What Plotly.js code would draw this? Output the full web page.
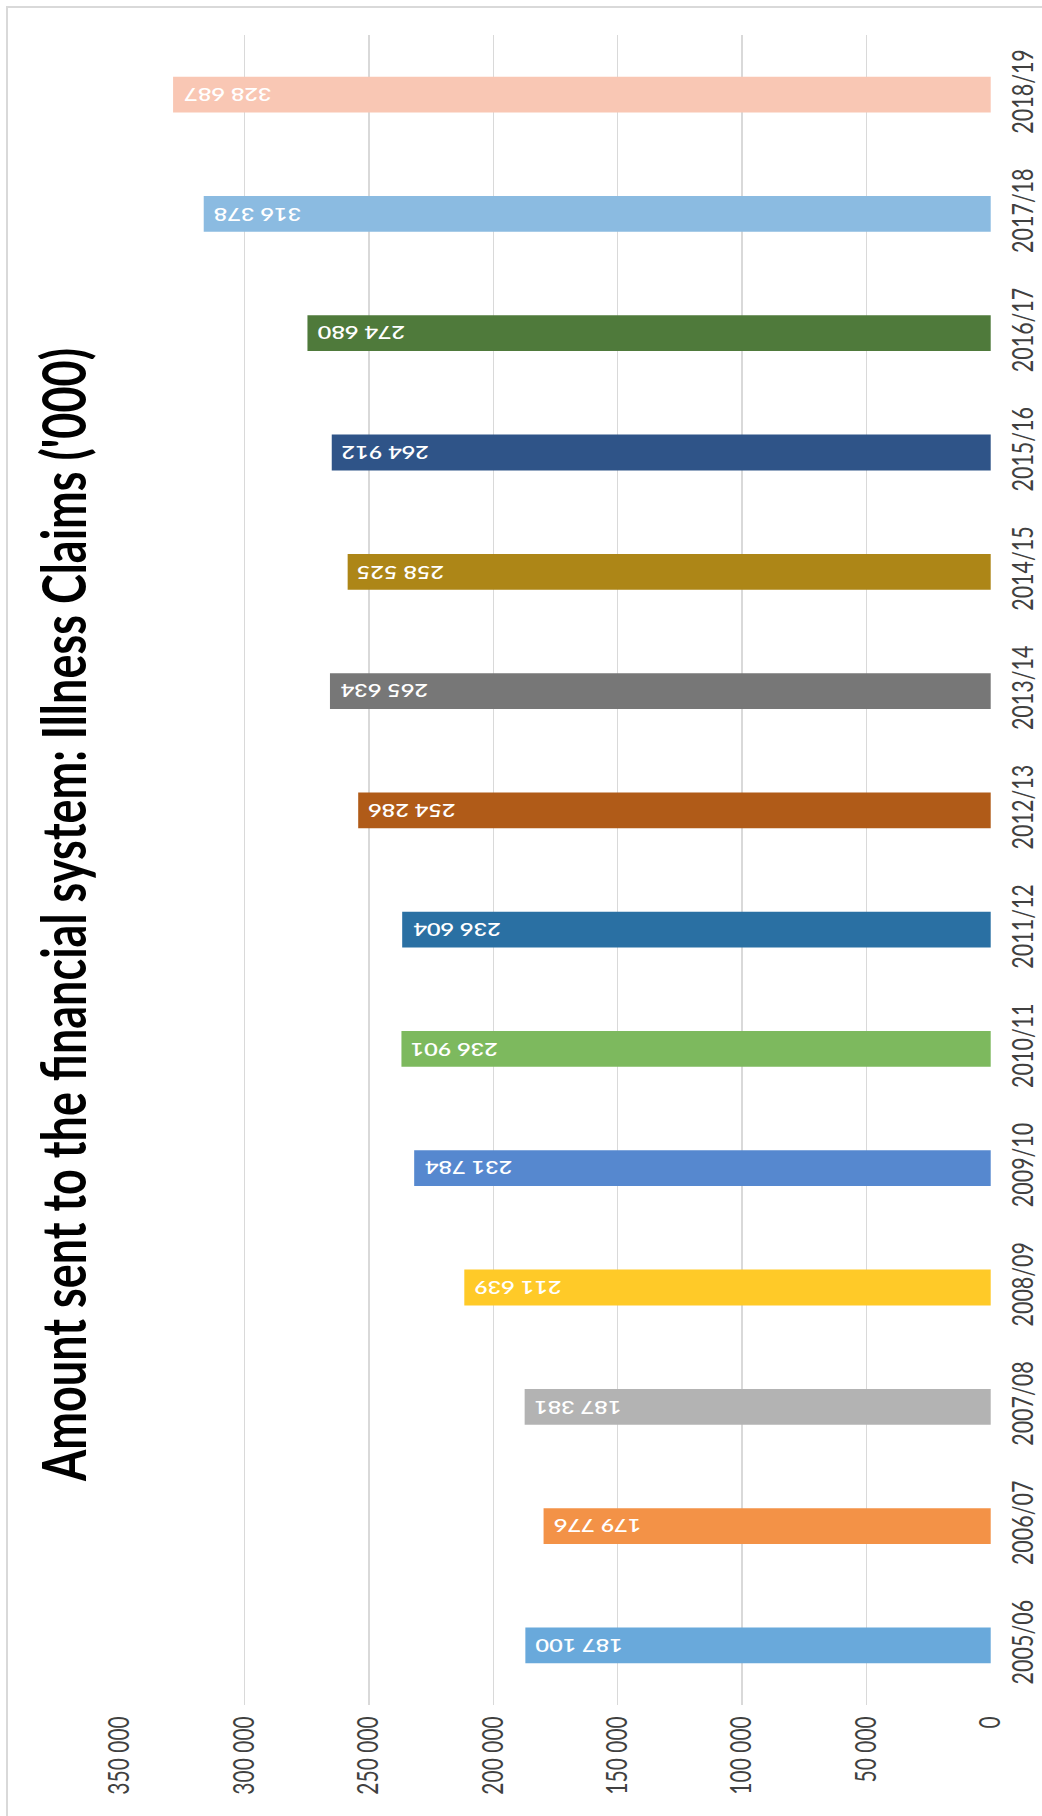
<!DOCTYPE html>
<html>
<head>
<meta charset="utf-8">
<script src="https://cdn.plot.ly/plotly-3.0.1.min.js"></script>
<style>
  html, body { margin: 0; padding: 0; background: #ffffff; overflow: hidden; }
  /* the chart is laid out narrower and widened sideways to its final width */
  #chart { position: absolute; left: 0; top: 0; width: 755px; height: 1816px;
           transform: scaleX(1.38); transform-origin: 0 0; }
  #frame { position: absolute; left: 6px; top: 6px; width: 1100px; height: 1900px;
           border-left: 2px solid #d9d9d9; border-top: 2px solid #d9d9d9;
           pointer-events: none; }
</style>
</head>
<body>
<div id="chart"></div>
<div id="frame"></div>
<script>
// Financial years, oldest first (drawn from the bottom up)
const seasons = ["2005/06", "2006/07", "2007/08", "2008/09", "2009/10", "2010/11", "2011/12",
                 "2012/13", "2013/14", "2014/15", "2015/16", "2016/17", "2017/18", "2018/19"];

// Amount sent to the financial system for illness claims ('000)
const amounts = [187100, 179776, 187381, 211639, 231784, 236901, 236604,
                 254286, 265634, 258525, 264912, 274680, 316378, 328687];

// One colour per year
const barColors = ["#69a9db", "#f39247", "#b3b3b3", "#ffca28", "#5688cf", "#7db95e", "#2a70a3",
                   "#b05b18", "#777777", "#ad8617", "#2f5488", "#4f7a3b", "#8bbbe1", "#f9c7b4"];

// Value axis ticks
const valueTicks = [0, 50000, 100000, 150000, 200000, 250000, 300000, 350000];

const chartTitle = "Amount sent to the financial system: Illness Claims ('000)";

function groupThousands(v) {
  return String(v).replace(/\B(?=(\d{3})+(?!\d))/g, " ");
}

const W = 755, H = 1816;
const margin = { l: 87, r: 37, t: 35, b: 111 };
const plotW = W - margin.l - margin.r;
const plotH = H - margin.t - margin.b;

const bars = {
  type: "bar",
  orientation: "h",
  y: seasons,
  x: amounts,
  marker: { color: barColors, line: { width: 0 } },
  hoverinfo: "skip"
};

const valueLabels = seasons.map((s, i) => ({
  x: amounts[i],
  y: s,
  xref: "x",
  yref: "y",
  text: groupThousands(amounts[i]),
  showarrow: false,
  textangle: 180,
  xanchor: "left",
  yanchor: "middle",
  xshift: 5,
  font: { family: "Lato", size: 17, weight: 600, color: "#ffffff" }
}));

const titleNote = {
  text: chartTitle,
  xref: "paper",
  yref: "paper",
  x: (45 - margin.l) / plotW,
  y: (H - margin.b - 915) / plotH,
  xanchor: "center",
  yanchor: "middle",
  showarrow: false,
  textangle: -90,
  font: { family: "Lato", size: 45, weight: "bold", color: "#000000" }
};

const layout = {
  width: W,
  height: H,
  margin: margin,
  paper_bgcolor: "rgba(0,0,0,0)",
  plot_bgcolor: "rgba(0,0,0,0)",
  separators: ". ",
  bargap: 0.7,
  showlegend: false,
  xaxis: {
    range: [350000, 0],
    tickvals: valueTicks,
    tickformat: ",",
    tickangle: -90,
    ticklabelstandoff: 6,
    showgrid: true,
    gridcolor: "#d9d9d9",
    gridwidth: 1,
    zeroline: false,
    showline: false,
    ticks: "",
    tickfont: { family: "Lato", size: 21, color: "#404040" },
    fixedrange: true
  },
  yaxis: {
    type: "category",
    categoryorder: "array",
    categoryarray: seasons,
    side: "right",
    tickangle: -90,
    ticklabelstandoff: 8,
    showgrid: false,
    zeroline: false,
    showline: false,
    ticks: "",
    tickfont: { family: "Lato", size: 21.5, color: "#404040" },
    fixedrange: true
  },
  annotations: [titleNote].concat(valueLabels)
};

Plotly.newPlot("chart", [bars], layout, { displayModeBar: false, staticPlot: true });
</script>
</body>
</html>
